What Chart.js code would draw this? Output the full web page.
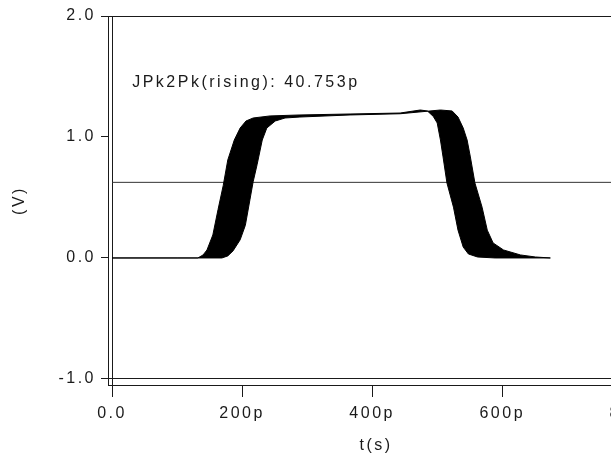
<!DOCTYPE html>
<html>
<head>
<meta charset="utf-8">
<script src="https://cdn.jsdelivr.net/npm/chart.js@4.4.0/dist/chart.umd.min.js"></script>
<style>
  html, body { margin: 0; padding: 0; background: #ffffff; }
  #wrap { width: 611px; height: 457px; }
</style>
</head>
<body>
<div id="wrap"><canvas id="c" width="611" height="457"></canvas></div>
<script>
// ---- tick labels ----
const xTickValues = [0, 200, 400, 600, 800];   // ps
const yTickValues = [-1, 0, 1, 2];             // V

// ---- waveform envelope (eye band): earliest trace and latest trace ----
const earlyT = [0, 100, 132, 140, 146, 155, 163, 171, 178, 188, 197, 206, 217, 243, 289, 366, 443, 474, 485, 494, 500, 505, 509, 515, 525, 532, 540, 548, 562, 589, 674];
const earlyV = [0, 0, 0, 0.025, 0.066, 0.19, 0.40, 0.60, 0.81, 0.975, 1.074, 1.132, 1.157, 1.174, 1.182, 1.19, 1.198, 1.223, 1.215, 1.17, 1.116, 0.975, 0.835, 0.62, 0.42, 0.23, 0.09, 0.033, 0.008, 0, 0];

const lateT = [0, 169, 178, 186, 197, 205, 212, 217, 223, 231, 238, 251, 266, 289, 366, 443, 505, 523, 532, 540, 546, 551, 558, 569, 577, 586, 602, 628, 651, 674];
const lateV = [0, 0, 0.017, 0.058, 0.15, 0.27, 0.48, 0.63, 0.77, 0.975, 1.074, 1.132, 1.157, 1.165, 1.182, 1.192, 1.223, 1.215, 1.165, 1.074, 0.975, 0.835, 0.62, 0.42, 0.23, 0.124, 0.066, 0.025, 0.008, 0];

// ---- threshold level & measurement annotation ----
const thresholdV = 0.625;
const annotationText = 'JPk2Pk(rising): 40.753p';
const annotationT = 31;
const annotationV = 1.45;

// ---- axis ranges ----
const xMin = -6.2, xMax = 818;
const yMin = -1.05, yMax = 2.0;

const fmtX = v => (v === 0 ? '0.0' : v + 'p');
const fmtY = v => Number(v).toFixed(1);

const bandPoints = earlyT.map((t, i) => ({ x: t, y: earlyV[i] }))
  .concat(lateT.map((t, i) => ({ x: t, y: lateV[i] })).reverse());
const thresholdPoints = [{ x: 0, y: thresholdV }, { x: xMax, y: thresholdV }];

const INK = '#1a1a1a';
const SPACING = '2.5px';
const X_AXIS_SPAN = 536;   // the time axis runs past the right edge of the window

Chart.defaults.font.family = '"Liberation Sans", Arial, sans-serif';
Chart.defaults.font.size = 16;
Chart.defaults.color = INK;

const textPlugin = {
  id: 'textPlugin',
  afterLayout(chart) {
    const xs = chart.scales.x;
    xs.right = xs.left + X_AXIS_SPAN;
    xs.width = X_AXIS_SPAN;
    xs.configure();
  },
  beforeDraw(chart) { chart.ctx.letterSpacing = SPACING; },
  afterDatasetsDraw(chart) {
    const ctx = chart.ctx;
    const xs = chart.scales.x, ys = chart.scales.y;
    ctx.save();
    ctx.letterSpacing = SPACING;
    ctx.font = '16px "Liberation Sans", Arial, sans-serif';
    ctx.fillStyle = INK;
    ctx.textAlign = 'left';
    ctx.textBaseline = 'middle';
    ctx.fillText(annotationText, xs.getPixelForValue(annotationT), ys.getPixelForValue(annotationV));
    ctx.restore();
  }
};

new Chart(document.getElementById('c'), {
  type: 'scatter',
  data: {
    datasets: [
      {
        data: bandPoints,
        showLine: true,
        borderColor: '#000000',
        backgroundColor: '#000000',
        borderWidth: 1,
        pointRadius: 0,
        fill: 'shape',
        tension: 0
      },
      {
        data: thresholdPoints,
        showLine: true,
        borderColor: '#333333',
        borderWidth: 1,
        pointRadius: 0,
        fill: false
      }
    ]
  },
  options: {
    responsive: false,
    devicePixelRatio: 1,
    animation: false,
    layout: { padding: { top: 16, left: 0, right: 0, bottom: 0 } },
    plugins: { legend: { display: false }, tooltip: { enabled: false } },
    scales: {
      x: {
        type: 'linear',
        min: xMin, max: xMax,
        afterBuildTicks: s => { s.ticks = xTickValues.map(v => ({ value: v })); },
        afterFit: s => { s.height = 72; s.paddingLeft = 0; s.paddingRight = 0; },
        ticks: { callback: v => fmtX(v), padding: 7, maxRotation: 0, autoSkip: false, color: INK },
        grid: {
          color: c => (c.tick && c.tick.value === 0) ? INK : 'rgba(0,0,0,0)',
          tickColor: INK, tickLength: 12, lineWidth: 1
        },
        border: { display: true, color: INK, width: 1 },
        title: { display: true, text: 't(s)', padding: { top: 0, bottom: 2 }, color: INK }
      },
      y: {
        type: 'linear',
        min: yMin, max: yMax,
        afterBuildTicks: s => { s.ticks = yTickValues.map(v => ({ value: v })); },
        afterFit: s => { s.width = 108; s.paddingTop = 0; s.paddingBottom = 0; },
        ticks: { callback: v => fmtY(v), padding: 5, color: INK },
        grid: {
          color: c => (c.tick && (c.tick.value === -1 || c.tick.value === 2)) ? INK : 'rgba(0,0,0,0)',
          tickColor: INK, tickLength: 7, lineWidth: 1
        },
        border: { display: true, color: INK, width: 1 },
        title: { display: true, text: '(V)', padding: { top: 10, bottom: 0 }, color: INK }
      }
    }
  },
  plugins: [textPlugin]
});
</script>
</body>
</html>
